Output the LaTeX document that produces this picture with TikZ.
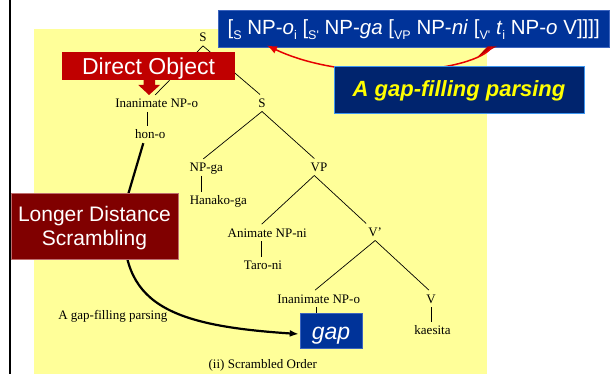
\documentclass[tikz,border=0pt]{standalone}
\usepackage{fontspec}
\setmainfont{Liberation Serif}
\newfontfamily\arialf{Liberation Sans}
\usetikzlibrary{arrows.meta}
\definecolor{bgyellow}{RGB}{255,255,153}
\definecolor{boxblue}{RGB}{0,51,153}
\definecolor{boxblueedge}{RGB}{60,100,190}
\definecolor{navybox}{RGB}{0,36,110}
\definecolor{navyedge}{RGB}{60,150,240}
\definecolor{dored}{RGB}{192,0,0}
\definecolor{ldred}{RGB}{128,0,0}
\definecolor{ldedge}{RGB}{190,110,110}
\definecolor{arrowred}{RGB}{230,0,0}
\definecolor{gapyellow}{RGB}{255,255,0}
\newcommand\subx[1]{\raisebox{-5pt}{\fontsize{12.5}{12.5}\selectfont #1}}
\tikzset{
  tl/.style={font=\fontsize{13}{13}\selectfont, text height=8.6pt, text depth=0pt,
    inner xsep=0pt, inner ysep=4pt, anchor=base},
  tline/.style={line width=0.7pt},
  sbox/.style={inner sep=0pt, text=white},
}
\begin{document}
\begin{tikzpicture}[x=1pt,y=-1pt]
\useasboundingbox (0,0) rectangle (610,374);
% background
\fill[bgyellow] (34,29) rectangle (487,374);
\draw[line width=2.4pt] (9.8,-2) -- (9.8,376);

% tree labels
\node[tl] (S0) at (203,41.7) {S};
\node[tl] (inpo1) at (156.7,107.7) {Inanimate NP-o};
\node[tl] (S1) at (262,107.3) {S};
\node[tl] (hono) at (150.3,139) {hon-o};
\node[tl] (npga) at (206.3,171.7) {NP-ga};
\node[tl] (hanako) at (218.3,204.6) {Hanako-ga};
\node[tl] (VP) at (319,171.3) {VP};
\node[tl] (anpni) at (267.2,237) {Animate NP-ni};
\node[tl] (Vbar) at (375.2,236.3) {V'};
\node[tl] (taro) at (263,269.6) {Taro-ni};
\node[tl] (inpo2) at (318.7,303) {Inanimate NP-o};
\node[tl] (V) at (431,303) {V};
\node[tl] (kaesita) at (432.5,334.6) {kaesita};
\node[tl] (gfp) at (112.8,319.3) {A gap-filling parsing};
\node[tl] (caption) at (262.8,368.6) {(ii) Scrambled Order};

% gap box
\node[sbox, fill=boxblue, draw=boxblueedge, line width=0.6pt,
  font=\arialf\itshape\fontsize{23}{23}\selectfont,
  text height=22pt, text depth=5pt, minimum width=62pt, minimum height=35pt] (gap) at (331,330.5) {gap};

% tree branches
\draw[tline] (S0.south) -- ([xshift=-1.5pt]inpo1.north);
\draw[tline] (S0.south) -- ([xshift=-2pt]S1.north);
\draw[tline] (S1.south) -- ([xshift=-3pt]npga.north);
\draw[tline] (S1.south) -- ([xshift=-4.7pt]VP.north);
\draw[tline] ([xshift=-4.7pt]VP.south) -- ([xshift=-5.5pt]anpni.north);
\draw[tline] ([xshift=-4.7pt]VP.south) -- ([xshift=-9pt]Vbar.north);
\draw[tline] (Vbar.south) -- ([xshift=-3.7pt]inpo2.north);
\draw[tline] (Vbar.south) -- ([xshift=-2pt]V.north);
\draw[tline] ([xshift=-9pt]inpo1.south) -- ([xshift=-2.6pt]hono.north);
\draw[tline] ([xshift=-5.3pt]npga.south) -- ([xshift=-17.3pt]hanako.north);
\draw[tline] ([xshift=-6.2pt]anpni.south) -- ([xshift=-2pt]taro.north);
\draw[tline] ([xshift=-2.4pt]inpo2.south) -- ([xshift=-14.7pt]gap.north);
\draw[tline] (V.south) -- ([xshift=-1.5pt]kaesita.north);

% long scrambling arrow
\coordinate (cbend) at (125,205);
\draw[line width=2.2pt, -{Latex[length=9pt,width=7pt]}]
  ([xshift=-7pt]hono.south) -- (cbend) .. controls (116,300) and (160,325) .. ([xshift=-1pt,yshift=-3.5pt]gap.west);

% Longer Distance Scrambling
\node[sbox, fill=ldred, draw=ldedge, line width=0.5pt, align=center,
  font=\arialf\fontsize{21}{24}\selectfont,
  minimum width=167pt, minimum height=66pt] (LDS) at (94.5,226)
  {\rule{0pt}{19.7pt}Longer Distance\\Scrambling};

% Direct Object callout
\fill[dored] (143.5,79) -- (143.5,85) -- (138.3,85) -- (149,95) -- (160,85) -- (155,85) -- (155,79) -- cycle;
\node[sbox, fill=dored, font=\arialf\fontsize{23}{23}\selectfont,
  text height=18pt, text depth=0pt, minimum width=173pt, minimum height=28pt] (DO) at (148.5,66) {Direct Object};

% top bracket box
\node[sbox, fill=boxblue, draw=boxblueedge, line width=0.6pt,
  font=\arialf\fontsize{20.5}{20.5}\selectfont,
  text height=18pt, text depth=5pt, minimum width=391pt, minimum height=37pt] (top) at (413.7,28.5)
  {[\subx{S} NP-\textit{o}\subx{i} [\subx{S'} NP-\textit{ga} [\subx{VP} NP-\textit{ni} [\subx{V'} \textit{t}\subx{i} NP-\textit{o} V]]]]};

% red arrow
\coordinate (rs) at (492,47);
\coordinate (re) at (267,45.5);
\fill[arrowred!80!black] (487.5,46.5) -- (496.5,46.5) -- (477.5,57) -- cycle;
\draw[arrowred, line width=1.5pt, -{Latex[length=10pt,width=8pt]}]
  (rs) .. controls (475,72) and (350,85) .. (re);

% gap-filling box
\node[inner sep=0pt, fill=navybox, draw=navyedge, line width=0.8pt, text=gapyellow,
  font=\arialf\bfseries\itshape\fontsize{22}{22}\selectfont,
  text height=19.4pt, text depth=5pt, minimum width=250pt, minimum height=47pt] (gfbox) at (459,89.5)
  {A gap-filling parsing};
\end{tikzpicture}
\end{document}
